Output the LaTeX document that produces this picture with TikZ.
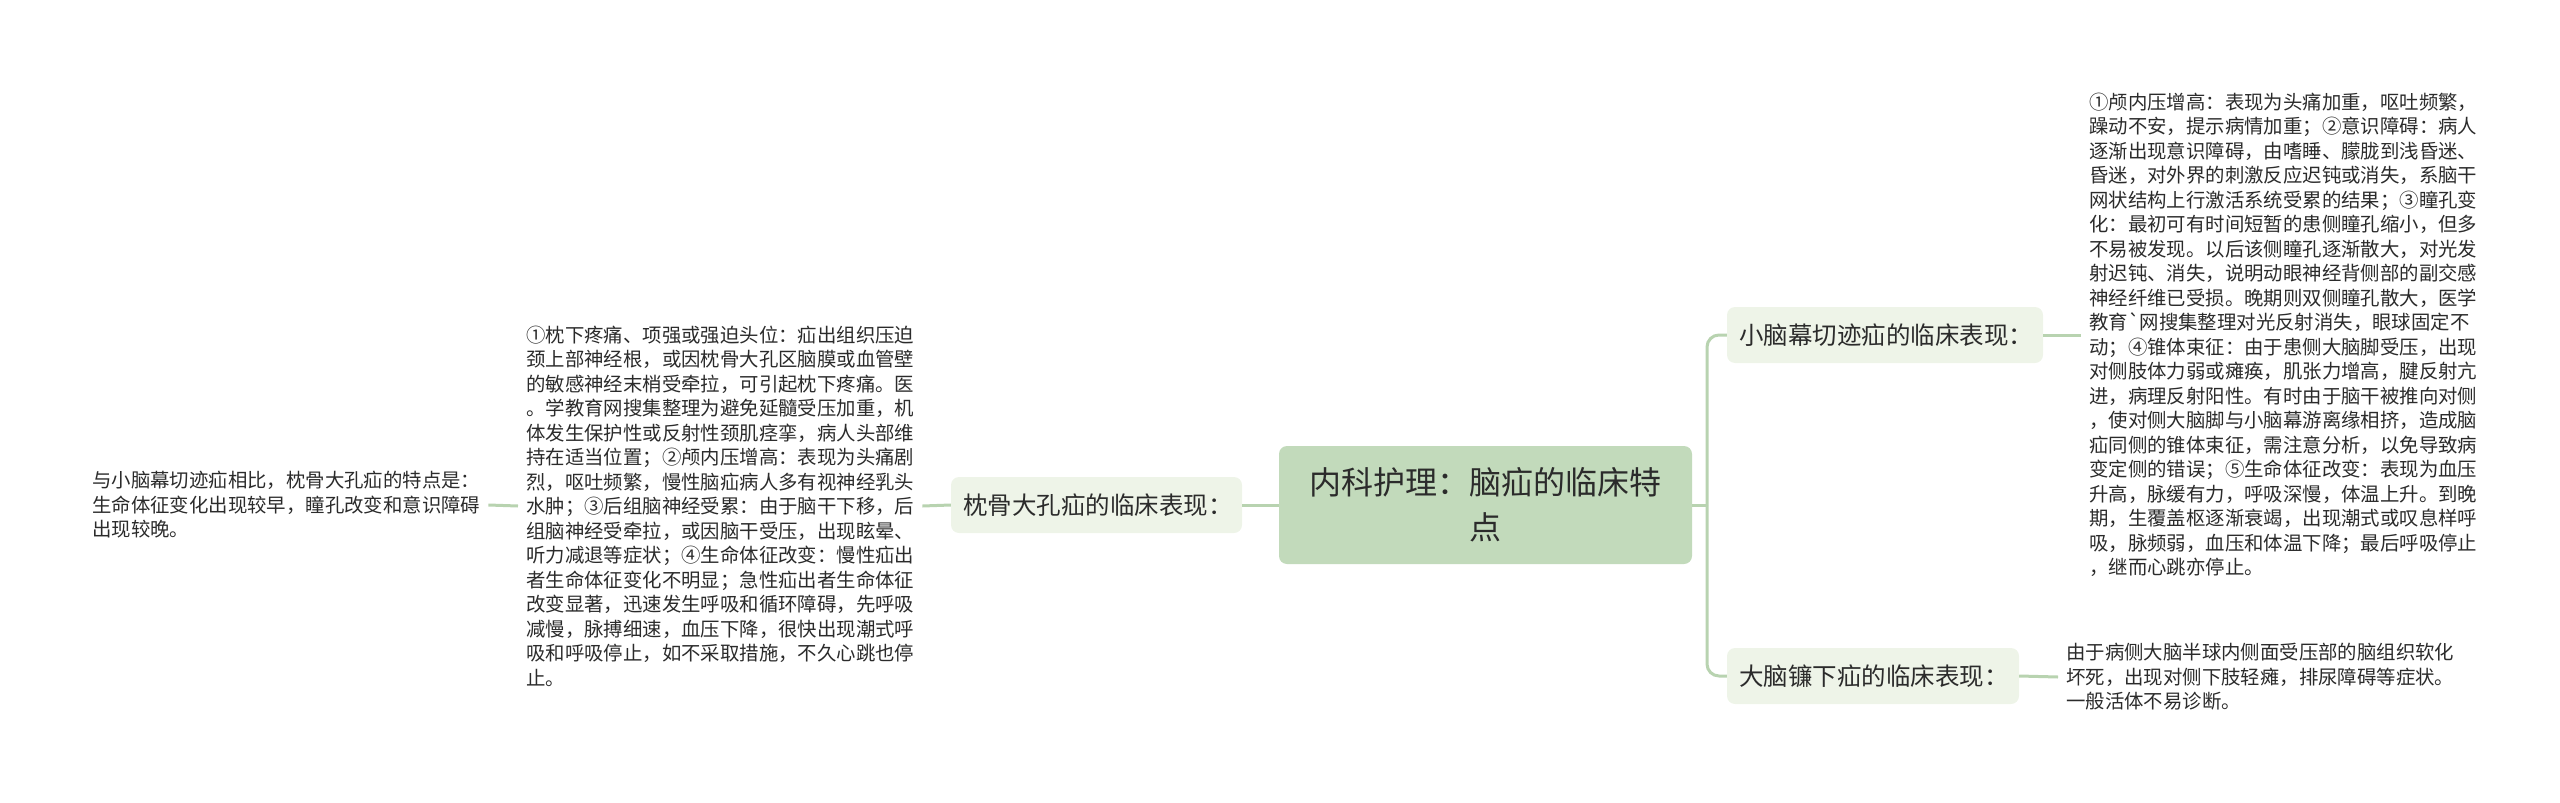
\documentclass[tikz,border=0pt]{standalone}
\usepackage{fontspec}
\usepackage[svgnames]{xcolor}
\newfontfamily\cjk{Noto Sans CJK SC}
\definecolor{rootgreen}{HTML}{C2DABB}
\definecolor{branchgreen}{HTML}{EEF4E8}
\definecolor{linkgreen}{HTML}{B8D3B0}
\definecolor{inkgray}{HTML}{2B2B2B}

\begin{document}
\begin{tikzpicture}[x=1pt, y=-1pt, font=\cjk, text=inkgray,
	topic/.style={fill=rootgreen, rounded corners=8pt, minimum width=413pt, minimum height=118pt, align=center, font=\cjk\fontsize{32}{45}\selectfont},
	branch/.style={fill=branchgreen, rounded corners=8pt, minimum height=56pt, inner xsep=12pt, text width=#1, align=left, font=\cjk\fontsize{24.5}{30}\selectfont},
	leaf/.style={inner xsep=8pt, inner ysep=0pt, align=left, anchor=west, font=\cjk\fontsize{19.4}{24.5}\selectfont},
	link/.style={draw=linkgreen, line width=3pt}]
	\useasboundingbox (0,0) rectangle (2560,803);
	\node (ROOT) [topic] at (1485.5,505) {内科护理：脑疝的临床特\\点};
	\node (occipital) [branch=267pt] at (1096.5,505) {枕骨大孔疝的临床表现：};
	\node (tentorial) [branch=292pt] at (1885,335) {小脑幕切迹疝的临床表现：};
	\node (falx) [branch=268pt] at (1873,676) {大脑镰下疝的临床表现：};
	\node (occText) [leaf] at (518,506) {①枕下疼痛、项强或强迫头位：疝出组织压迫\\颈上部神经根，或因枕骨大孔区脑膜或血管壁\\的敏感神经末梢受牵拉，可引起枕下疼痛。医\\。学教育网搜集整理为避免延髓受压加重，机\\体发生保护性或反射性颈肌痉挛，病人头部维\\持在适当位置；②颅内压增高：表现为头痛剧\\烈，呕吐频繁，慢性脑疝病人多有视神经乳头\\水肿；③后组脑神经受累：由于脑干下移，后\\组脑神经受牵拉，或因脑干受压，出现眩晕、\\听力减退等症状；④生命体征改变：慢性疝出\\者生命体征变化不明显；急性疝出者生命体征\\改变显著，迅速发生呼吸和循环障碍，先呼吸\\减慢，脉搏细速，血压下降，很快出现潮式呼\\吸和呼吸停止，如不采取措施，不久心跳也停\\止。};
	\node (compare) [leaf] at (84,505) {与小脑幕切迹疝相比，枕骨大孔疝的特点是：\\生命体征变化出现较早，瞳孔改变和意识障碍\\出现较晚。};
	\node (tentText) [leaf] at (2081,335) {①颅内压增高：表现为头痛加重，呕吐频繁，\\躁动不安，提示病情加重；②意识障碍：病人\\逐渐出现意识障碍，由嗜睡、朦胧到浅昏迷、\\昏迷，对外界的刺激反应迟钝或消失，系脑干\\网状结构上行激活系统受累的结果；③瞳孔变\\化：最初可有时间短暂的患侧瞳孔缩小，但多\\不易被发现。以后该侧瞳孔逐渐散大，对光发\\射迟钝、消失，说明动眼神经背侧部的副交感\\神经纤维已受损。晚期则双侧瞳孔散大，医学\\教育`网搜集整理对光反射消失，眼球固定不\\动；④锥体束征：由于患侧大脑脚受压，出现\\对侧肢体力弱或瘫痪，肌张力增高，腱反射亢\\进，病理反射阳性。有时由于脑干被推向对侧\\，使对侧大脑脚与小脑幕游离缘相挤，造成脑\\疝同侧的锥体束征，需注意分析，以免导致病\\变定侧的错误；⑤生命体征改变：表现为血压\\升高，脉缓有力，呼吸深慢，体温上升。到晚\\期，生覆盖枢逐渐衰竭，出现潮式或叹息样呼\\吸，脉频弱，血压和体温下降；最后呼吸停止\\，继而心跳亦停止。};
	\node (falxText) [leaf] at (2058,677) {由于病侧大脑半球内侧面受压部的脑组织软化\\坏死，出现对侧下肢轻瘫，排尿障碍等症状。\\一般活体不易诊断。};
	\coordinate (fork) at (1707,505);
	\draw[link] (ROOT.west) -- (occipital.east);
	\draw[link] (occipital.west) -- (occText.east);
	\draw[link] (occText.west) -- (compare.east);
	\draw[link] (ROOT.east) -- (fork);
	\draw[link, rounded corners=12pt] (fork) |- (tentorial.west);
	\draw[link, rounded corners=12pt] (fork) |- (falx.west);
	\draw[link] (tentorial.east) -- (tentText.west);
	\draw[link] (falx.east) -- (falxText.west);
\end{tikzpicture}
\end{document}
